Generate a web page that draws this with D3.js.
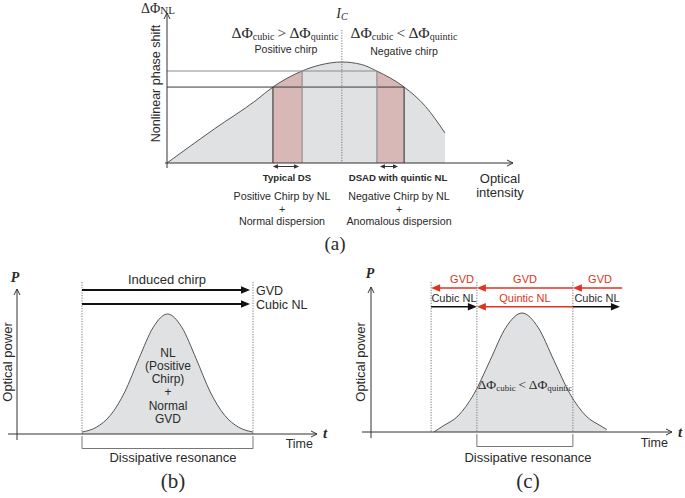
<!DOCTYPE html>
<html><head><meta charset="utf-8">
<script src="https://cdn.jsdelivr.net/npm/d3@7"></script>
<style>body{margin:0;background:#fff} svg{display:block}</style>
</head><body>
<svg id="fig" width="685" height="498"></svg>
<script>
// ---------- Panel (a) data : nonlinear phase shift vs optical intensity ----------
const intensityA = [0, 1.7, 3.2, 3.81, 4.86, 5.5, 6.29, 7.0, 7.55, 8.53, 9.3, 10];
const phaseA     = [0, 3.37, 6.2, 7.52, 9.11, 9.7, 10, 9.75, 9.1, 7.52, 5.6, 2.97];
const criticalIntensity = 6.29;
const bandsA = [[3.81, 4.86], [7.55, 8.53]];      // shaded (pink) intensity bands
const levelsA = [9.11, 7.52];                      // phase levels at the band edges
const spanArrowsA = [[3.81, 4.75], [7.66, 8.31]];  // small double arrows under the axis
const regionTitlesA = ["Typical DS", "DSAD with quintic NL"];
const regionNotesA = [["Positive Chirp by NL", "+", "Normal dispersion"],
                      ["Negative Chirp by NL", "+", "Anomalous dispersion"]];
const chirpNamesA = ["Positive chirp", "Negative chirp"];

// ---------- Panel (b) data : pulse, dissipative resonance (normal GVD) ----------
const timeB  = [-3, -2.5, -2, -1.5, -1, -0.5, 0, 0.5, 1, 1.5, 2, 2.5, 3];
const powerB = [0.016, 0.056, 0.157, 0.35, 0.63, 0.89, 1, 0.89, 0.63, 0.35, 0.157, 0.056, 0.016];
const edgesB = [-3, 3];
const arrowLabelsB = ["GVD", "Cubic NL"];
const innerTextB = ["NL", "(Positive", "Chirp)", "+", "Normal", "GVD"];

// ---------- Panel (c) data : pulse with quintic NL ----------
const timeC  = [-2.75, -2.5, -2, -1.5, -1, -0.5, 0, 0.5, 1, 1.5, 2, 2.5, 2.65];
const powerC = [0, 0.045, 0.135, 0.32, 0.6, 0.88, 1, 0.88, 0.6, 0.32, 0.135, 0.045, 0.02];
const edgesC = [-2.84, -1.41, 1.59];
const gvdArrowsC = [[-1.41, -2.84], [1.59, -1.41], [3.13, 1.59]];          // from -> to (all red)
const nlArrowsC  = [[-2.84, -1.41, "black", "Cubic NL"], [1.59, -1.41, "red", "Quintic NL"], [1.59, 3.06, "black", "Cubic NL"]];

// ---------- styling ----------
const SANS = "'Liberation Sans', Arial, Helvetica, sans-serif";
const SERIF = "'Liberation Serif', 'Times New Roman', serif";
const TXT = "#2a2a2a", AX = "#333", GRAYFILL = "#e0e1e3", PINK = "#d8b8b6", RED = "#df3320";

const svg = d3.select("#fig");

function openArrowLine(g, x1, y1, x2, y2) {
  g.append("line").attr("x1", x1).attr("y1", y1).attr("x2", x2).attr("y2", y2)
    .attr("stroke", AX).attr("stroke-width", 1);
  const a = Math.atan2(y2 - y1, x2 - x1), L = 6, W = 3;
  const p = [[x2 - L * Math.cos(a) + W * Math.sin(a), y2 - L * Math.sin(a) - W * Math.cos(a)],
             [x2, y2],
             [x2 - L * Math.cos(a) - W * Math.sin(a), y2 - L * Math.sin(a) + W * Math.cos(a)]];
  g.append("path").attr("d", d3.line()(p)).attr("fill", "none").attr("stroke", AX).attr("stroke-width", 1);
}
function filledArrow(g, x1, x2, y, color, sw, L, W) {
  const s = Math.sign(x2 - x1);
  g.append("line").attr("x1", x1).attr("y1", y).attr("x2", x2 - s * L * 0.8).attr("y2", y)
    .attr("stroke", color).attr("stroke-width", sw);
  g.append("path").attr("d", d3.line()([[x2, y], [x2 - s * L, y - W], [x2 - s * L, y + W]]) + "Z")
    .attr("fill", color);
}
function text(g, x, y, s, opts = {}) {
  return g.append("text").attr("x", x).attr("y", y).text(s)
    .attr("font-family", opts.family || SANS).attr("font-size", opts.size || 12)
    .attr("font-weight", opts.weight || "normal").attr("font-style", opts.style || "normal")
    .attr("fill", opts.fill || TXT).attr("text-anchor", opts.anchor || "middle");
}
function rotText(g, x, y, s, size) {
  g.append("text").attr("transform", `translate(${x},${y}) rotate(-90)`).text(s)
    .attr("font-family", SANS).attr("font-size", size).attr("fill", TXT).attr("text-anchor", "middle");
}
function deltaPhi(g, x, y, sub1, op, sub2, big, small, anchor) {
  const t = g.append("text").attr("x", x).attr("y", y).attr("font-family", SERIF)
    .attr("fill", TXT).attr("text-anchor", anchor || "middle").attr("font-size", big);
  t.append("tspan").text("ΔΦ");
  t.append("tspan").text(sub1).attr("font-size", small).attr("dy", 2);
  t.append("tspan").text("\u2009" + op + "\u2009").attr("dy", -2);
  t.append("tspan").text("ΔΦ");
  t.append("tspan").text(sub2).attr("font-size", small).attr("dy", 2);
  return t;
}
function dotted(g, x, y1, y2) {
  g.append("line").attr("x1", x).attr("x2", x).attr("y1", y1).attr("y2", y2)
    .attr("stroke", "#777").attr("stroke-width", 1).attr("stroke-dasharray", "1.2,1.4");
}

// ================= Panel (a) =================
{
  const g = svg.append("g");
  const x = d3.scaleLinear().domain([0, 10]).range([167, 445]);
  const y = d3.scaleLinear().domain([0, 10]).range([163, 62]);
  const pts = intensityA.map((v, i) => [v, phaseA[i]]);
  const area = d3.area().x(d => x(d[0])).y0(y(0)).y1(d => y(d[1])).curve(d3.curveMonotoneX);
  const line = d3.line().x(d => x(d[0])).y(d => y(d[1])).curve(d3.curveMonotoneX);

  svg.append("defs").append("clipPath").attr("id", "clipA").append("path").attr("d", area(pts));
  g.append("path").attr("d", area(pts)).attr("fill", GRAYFILL);
  g.selectAll("rect.band").data(bandsA).join("rect")
    .attr("x", d => x(d[0])).attr("width", d => x(d[1]) - x(d[0]))
    .attr("y", y(11)).attr("height", y(0) - y(11))
    .attr("fill", PINK).attr("clip-path", "url(#clipA)");
  g.append("path").attr("d", line(pts)).attr("fill", "none").attr("stroke", "#555").attr("stroke-width", 1);

  // level lines and band edges
  g.append("line").attr("x1", x(0)).attr("x2", x(bandsA[1][0])).attr("y1", y(levelsA[0])).attr("y2", y(levelsA[0]))
    .attr("stroke", "#8c8c8c").attr("stroke-width", 1.1);
  g.append("line").attr("x1", x(0)).attr("x2", x(bandsA[1][1])).attr("y1", y(levelsA[1])).attr("y2", y(levelsA[1]))
    .attr("stroke", "#3a3a3a").attr("stroke-width", 1);
  [[bandsA[0][0], levelsA[1], "#3a3a3a"], [bandsA[0][1], levelsA[0], "#8c8c8c"],
   [bandsA[1][0], levelsA[0], "#8c8c8c"], [bandsA[1][1], levelsA[1], "#3a3a3a"]].forEach(([xi, lv, c]) => {
    g.append("line").attr("x1", x(xi)).attr("x2", x(xi)).attr("y1", y(lv)).attr("y2", y(0))
      .attr("stroke", c).attr("stroke-width", 1.1);
  });
  dotted(g, x(criticalIntensity), 30, y(0));

  // axes
  openArrowLine(g, x(0) - 2, y(0), 513, y(0));
  openArrowLine(g, x(0), y(0) + 5, x(0), 13);

  // double arrows
  spanArrowsA.forEach(([a, b]) => {
    const yy = 166.5, L = 5, W = 2.3;
    g.append("line").attr("x1", x(a) + 3).attr("x2", x(b) - 3).attr("y1", yy).attr("y2", yy).attr("stroke", AX).attr("stroke-width", 1);
    g.append("path").attr("d", d3.line()([[x(a), yy], [x(a) + L, yy - W], [x(a) + L, yy + W]]) + "Z").attr("fill", AX);
    g.append("path").attr("d", d3.line()([[x(b), yy], [x(b) - L, yy - W], [x(b) - L, yy + W]]) + "Z").attr("fill", AX);
  });

  // texts
  const t0 = g.append("text").attr("x", 141).attr("y", 12.5).attr("font-family", SERIF).attr("fill", TXT).attr("font-size", 14);
  t0.append("tspan").text("ΔΦ");
  t0.append("tspan").text("NL").attr("font-size", 11).attr("dy", 1);
  rotText(g, 159.5, 83.5, "Nonlinear phase shift", 12.5);
  const ic = g.append("text").attr("x", 342).attr("y", 18).attr("font-family", SERIF).attr("fill", TXT)
    .attr("font-size", 14).attr("font-style", "italic").attr("text-anchor", "middle");
  ic.append("tspan").text("I");
  ic.append("tspan").text("C").attr("font-size", 10).attr("dy", 2);
  deltaPhi(g, 285, 38, "cubic", ">", "quintic", 15.5, 10);
  deltaPhi(g, 404, 38, "cubic", "<", "quintic", 15.5, 10);
  text(g, 286, 53, chirpNamesA[0], { size: 10.6 });
  text(g, 404, 55, chirpNamesA[1], { size: 10.6 });
  text(g, 287, 181, regionTitlesA[0], { size: 9.6, weight: "bold" });
  text(g, 398, 181, regionTitlesA[1], { size: 9.6, weight: "bold" });
  [282, 399].forEach((cx, k) => {
    regionNotesA[k].forEach((s, i) => text(g, cx, [200, 213, 225][i], s, { size: 10.7 }));
  });
  text(g, 500, 183, "Optical", { size: 13 });
  text(g, 500, 197, "intensity", { size: 13 });
  text(g, 335, 250, "(a)", { size: 19, family: SERIF });
}

// ================= Panel (b) =================
{
  const g = svg.append("g");
  const x = d3.scaleLinear().domain([-3, 3]).range([82, 253]);
  const y = d3.scaleLinear().domain([0, 1]).range([434, 314]);
  const pts = timeB.map((t, i) => [t, powerB[i]]);
  g.append("path").attr("d", d3.area().x(d => x(d[0])).y0(y(0)).y1(d => y(d[1])).curve(d3.curveMonotoneX)(pts))
    .attr("fill", GRAYFILL);
  g.append("path").attr("d", d3.line().x(d => x(d[0])).y(d => y(d[1])).curve(d3.curveMonotoneX)(pts))
    .attr("fill", "none").attr("stroke", "#555").attr("stroke-width", 1);
  edgesB.forEach(e => dotted(g, x(e), 282, y(0)));
  openArrowLine(g, 8, y(0), 317, y(0));
  openArrowLine(g, 17, 440, 17, 289);

  filledArrow(g, x(edgesB[0]), 250, 290, "#111", 1.8, 9, 3.8);
  filledArrow(g, x(edgesB[0]), 250, 304, "#111", 1.8, 9, 3.8);
  text(g, 167, 284, "Induced chirp", { size: 13 });
  text(g, 256, 294.5, arrowLabelsB[0], { size: 12.5, anchor: "start" });
  text(g, 256, 309, arrowLabelsB[1], { size: 12.5, anchor: "start" });
  innerTextB.forEach((s, i) => text(g, 168, 356.7 + 13.2 * i, s, { size: 12 }));

  // bracket
  g.append("path").attr("d", d3.line()([[x(edgesB[0]), 436], [x(edgesB[0]), 448.5], [x(edgesB[1]), 448.5], [x(edgesB[1]), 436]]))
    .attr("fill", "none").attr("stroke", "#777").attr("stroke-width", 1);
  text(g, 173, 462, "Dissipative resonance", { size: 13 });
  text(g, 313, 448, "Time", { size: 12.5, anchor: "end" });
  text(g, 325, 438, "t", { size: 15, family: SERIF, style: "italic", weight: "bold" });
  text(g, 15, 282, "P", { size: 14, family: SERIF, style: "italic", weight: "bold" });
  rotText(g, 11.5, 362, "Optical power", 13);
  text(g, 173, 488, "(b)", { size: 21, family: SERIF });
}

// ================= Panel (c) =================
{
  const g = svg.append("g");
  const x = d3.scaleLinear().domain([-3, 3]).range([426, 618]);
  const y = d3.scaleLinear().domain([0, 1]).range([432, 313]);
  const pts = timeC.map((t, i) => [t, powerC[i]]);
  g.append("path").attr("d", d3.area().x(d => x(d[0])).y0(y(0)).y1(d => y(d[1])).curve(d3.curveMonotoneX)(pts))
    .attr("fill", GRAYFILL);
  g.append("path").attr("d", d3.line().x(d => x(d[0])).y(d => y(d[1])).curve(d3.curveMonotoneX)(pts))
    .attr("fill", "none").attr("stroke", "#555").attr("stroke-width", 1);
  edgesC.forEach(e => dotted(g, x(e), 282, y(0)));
  openArrowLine(g, 362, y(0), 672, y(0));
  openArrowLine(g, 371, 438, 371, 287);

  gvdArrowsC.forEach(([a, b]) => filledArrow(g, x(a), x(b), 288, RED, 1.6, 9, 3.8));
  nlArrowsC.forEach(([a, b, c]) => filledArrow(g, x(a), x(b), 306.7, c === "red" ? RED : "#111", 1.6, 9, 3.8));
  [462, 525, 600].forEach(cx => text(g, cx, 283, "GVD", { size: 11, fill: RED }));
  [[454, "black"], [525, "red"], [597, "black"]].forEach(([cx, c], i) =>
    text(g, cx, 302, nlArrowsC[i][3], { size: 11, fill: c === "red" ? RED : TXT }));

  deltaPhi(g, 525, 389, "cubic", "<", "quintic", 13.5, 9);

  g.append("path").attr("d", d3.line()([[x(edgesC[1]), 434], [x(edgesC[1]), 446.5], [x(edgesC[2]), 446.5], [x(edgesC[2]), 434]]))
    .attr("fill", "none").attr("stroke", "#777").attr("stroke-width", 1);
  text(g, 528, 462, "Dissipative resonance", { size: 13 });
  text(g, 668, 447, "Time", { size: 12.5, anchor: "end" });
  text(g, 680, 437, "t", { size: 15, family: SERIF, style: "italic", weight: "bold" });
  text(g, 370, 278, "P", { size: 14, family: SERIF, style: "italic", weight: "bold" });
  rotText(g, 364.5, 362, "Optical power", 13);
  text(g, 528, 488, "(c)", { size: 21, family: SERIF });
}
</script>
</body></html>
